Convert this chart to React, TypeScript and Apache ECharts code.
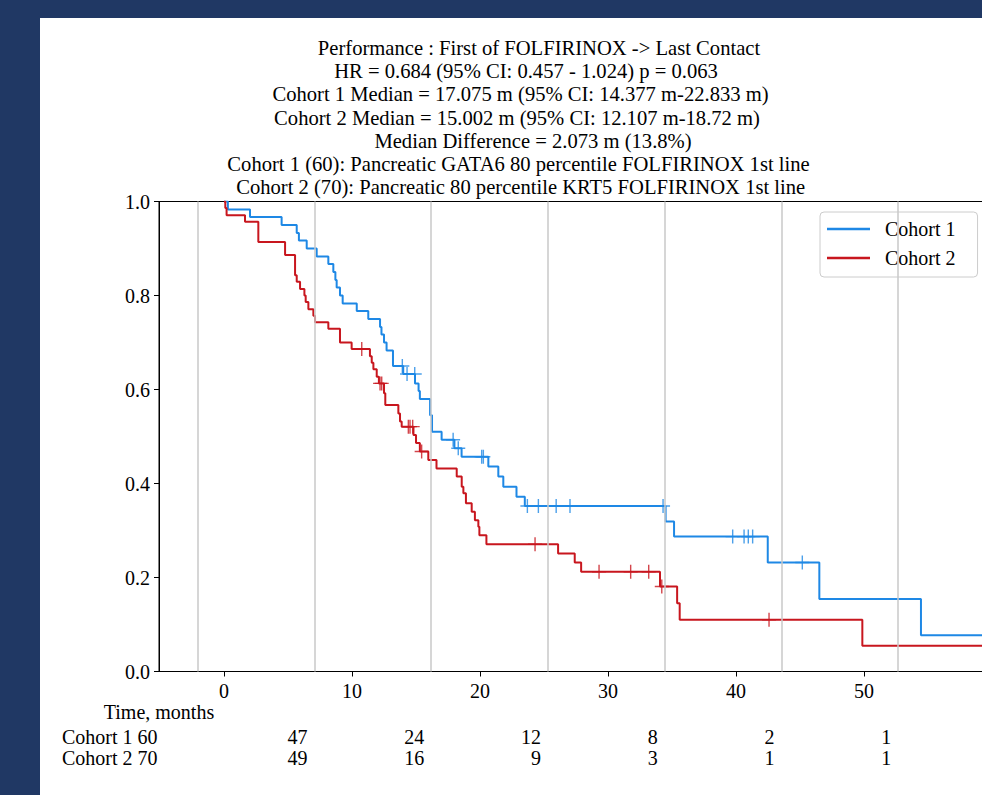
import React, { useEffect, useRef } from "react";
import * as echarts from "echarts";

const titleLines = [
  "Performance : First of FOLFIRINOX -> Last Contact",
  "HR = 0.684 (95% CI: 0.457 - 1.024) p = 0.063",
  "Cohort 1 Median = 17.075 m (95% CI: 14.377 m-22.833 m)",
  "Cohort 2 Median = 15.002 m (95% CI: 12.107 m-18.72 m)",
  "Median Difference = 2.073 m (13.8%)",
  "Cohort 1 (60): Pancreatic GATA6 80 percentile FOLFIRINOX 1st line",
  "Cohort 2 (70): Pancreatic 80 percentile KRT5 FOLFIRINOX 1st line",
];
const titleCenters = [539, 526, 520.5, 517, 533, 518.5, 520.7];

const seriesNames = ["Cohort 1", "Cohort 2"];

const cohort1Times = [0, 0.3, 2.03, 4.5, 5.68, 5.85, 6.46, 7.24, 8.15, 8.54, 8.7, 8.8, 9.06, 9.27, 10.37, 11.27, 12.19, 12.3, 12.5, 12.7, 13.2, 14.0, 14.92, 15.2, 15.3, 16.1, 16.25, 17.0, 18.0, 18.56, 20.65, 21.43, 21.82, 22.85, 23.5, 34.5, 35.16, 42.48, 46.51, 54.45];
const cohort1Surv = [1, 0.983, 0.967, 0.95, 0.933, 0.917, 0.9, 0.883, 0.867, 0.85, 0.833, 0.817, 0.8, 0.783, 0.767, 0.75, 0.733, 0.717, 0.7, 0.683, 0.65, 0.633, 0.613, 0.597, 0.58, 0.545, 0.51, 0.493, 0.475, 0.457, 0.436, 0.415, 0.393, 0.372, 0.352, 0.319, 0.287, 0.232, 0.154, 0.077];
const cohort1Censor = [13.93, 14.3, 14.9, 17.9, 18.3, 20.13, 20.26, 23.7, 24.56, 25.95, 27.03, 34.3, 39.74, 40.63, 40.96, 41.3, 45.18];
const cohort1FollowUpEnd = 70;

const cohort2Times = [0, 0.1, 0.2, 1.64, 2.68, 4.77, 5.55, 5.68, 5.94, 6.28, 6.38, 6.59, 6.98, 7.11, 8.15, 9.06, 9.97, 11.4, 11.54, 11.67, 11.93, 12.1, 12.5, 12.6, 13.62, 13.75, 13.88, 14.8, 15.0, 15.3, 15.96, 16.6, 18.18, 18.57, 18.7, 18.9, 19.35, 19.6, 19.87, 19.95, 20.5, 26.1, 27.4, 27.9, 34.06, 35.4, 35.6, 49.87];
const cohort2Surv = [1, 0.986, 0.971, 0.957, 0.914, 0.886, 0.843, 0.829, 0.814, 0.8, 0.786, 0.771, 0.757, 0.743, 0.729, 0.7, 0.686, 0.671, 0.657, 0.643, 0.627, 0.613, 0.592, 0.567, 0.549, 0.532, 0.521, 0.503, 0.486, 0.468, 0.45, 0.432, 0.415, 0.393, 0.379, 0.358, 0.34, 0.322, 0.308, 0.29, 0.271, 0.251, 0.232, 0.212, 0.181, 0.145, 0.11, 0.055];
const cohort2Censor = [10.76, 12.19, 12.32, 14.4, 14.53, 14.74, 15.44, 24.3, 29.3, 31.77, 33.18, 34.2, 42.58];
const cohort2FollowUpEnd = 70;

const xTickValues = [0, 10, 20, 30, 40, 50];
const riskGridMonths = [-2.05, 7.07, 16.19, 25.31, 34.43, 43.55, 52.67];
const riskRowLabels = ["Cohort 1 60", "Cohort 2 70"];
const atRisk1 = [47, 24, 12, 8, 2, 1];
const atRisk2 = [49, 16, 9, 3, 1, 1];
const xLabelText = "Time, months";

const FONT = '"Liberation Serif", "Times New Roman", serif';
const BLUE = "#1e88e5";
const RED = "#c8161e";
const PLUS = "path://M6.3,0h1.4v14h-1.4z M0,6.3h14v1.4h-14z";

function survAt(times: number[], surv: number[], t: number) {
  let s = surv[0];
  for (let i = 0; i < times.length; i++) {
    if (times[i] <= t) s = surv[i];
  }
  return s;
}

function textEl(text: string, x: number, y: number, align: string, size = 20) {
  return {
    type: "text",
    x,
    y,
    silent: true,
    style: {
      text,
      font: `${size}px ${FONT}`,
      fill: "#000",
      textAlign: align,
      align,
      textVerticalAlign: "middle",
      verticalAlign: "middle",
    },
  };
}

export default function App() {
  const ref = useRef<HTMLDivElement>(null);

  useEffect(() => {
    const chart = echarts.init(ref.current!, null, { renderer: "svg" });
    const line1 = cohort1Times.map((t, i) => [t, cohort1Surv[i]]);
    line1.push([cohort1FollowUpEnd, cohort1Surv[cohort1Surv.length - 1]]);
    const line2 = cohort2Times.map((t, i) => [t, cohort2Surv[i]]);
    line2.push([cohort2FollowUpEnd, cohort2Surv[cohort2Surv.length - 1]]);
    const cens1 = cohort1Censor.map((t) => [t, survAt(cohort1Times, cohort1Surv, t)]);
    const cens2 = cohort2Censor.map((t) => [t, survAt(cohort2Times, cohort2Surv, t)]);

    const option: any = {
      animation: false,
      grid: {
        left: 159,
        top: 201.5,
        width: 909.8,
        height: 470,
        show: true,
        borderColor: "#000",
        borderWidth: 1,
        backgroundColor: "transparent",
      },
      xAxis: {
        type: "value",
        min: -5.08,
        max: 66,
        axisLine: { show: true, onZero: false, lineStyle: { color: "#000", width: 1 } },
        axisTick: { show: true, customValues: xTickValues, length: 5, lineStyle: { color: "#000" } },
        axisLabel: { customValues: xTickValues, fontFamily: FONT, fontSize: 20, color: "#000", margin: 9 },
        splitLine: { show: false },
      },
      yAxis: {
        type: "value",
        min: 0,
        max: 1,
        interval: 0.2,
        axisLine: { show: true, onZero: false, lineStyle: { color: "#000", width: 1 } },
        axisTick: { show: true, length: 5, lineStyle: { color: "#000" } },
        axisLabel: {
          fontFamily: FONT,
          fontSize: 20,
          color: "#000",
          margin: 9,
          formatter: (v: number) => v.toFixed(1),
        },
        splitLine: { show: false },
      },
      legend: {
        data: seriesNames.map((n) => ({ name: n, icon: "rect" })),
        orient: "vertical",
        left: 820,
        top: 212,
        itemWidth: 43,
        itemHeight: 2.5,
        itemGap: 9,
        padding: [7, 22, 9, 7],
        borderColor: "#cccccc",
        borderWidth: 1,
        borderRadius: 4,
        textStyle: { fontFamily: FONT, fontSize: 20, color: "#000", lineHeight: 20, padding: [0, 0, 0, 10] },
      },
      series: [
        {
          type: "line",
          name: "grid",
          data: [],
          silent: true,
          z: 1,
          markLine: {
            silent: true,
            symbol: "none",
            label: { show: false },
            lineStyle: { color: "#c8c8c8", width: 1.5, type: "solid" },
            data: riskGridMonths.map((m) => ({ xAxis: m })),
          },
        },
        {
          type: "line",
          name: seriesNames[0],
          data: line1,
          step: "end",
          showSymbol: false,
          clip: true,
          color: BLUE,
          lineStyle: { color: BLUE, width: 2 },
          z: 3,
        },
        {
          type: "line",
          name: seriesNames[1],
          data: line2,
          step: "end",
          showSymbol: false,
          clip: true,
          color: RED,
          lineStyle: { color: RED, width: 2 },
          z: 3,
        },
        {
          type: "scatter",
          name: "c1cens",
          data: cens1,
          symbol: PLUS,
          symbolSize: 14,
          itemStyle: { color: BLUE },
          z: 4,
        },
        {
          type: "scatter",
          name: "c2cens",
          data: cens2,
          symbol: PLUS,
          symbolSize: 14,
          itemStyle: { color: RED },
          z: 4,
        },
      ],
    };
    chart.setOption(option);

    const graphics: any[] = [];
    titleLines.forEach((t, i) => graphics.push(textEl(t, titleCenters[i], 48 + 23.2 * i, "center", 20.6)));
    graphics.push(textEl(xLabelText, 159, 712, "center"));
    riskRowLabels.forEach((t, i) => graphics.push(textEl(t, 62, 737 + 21 * i, "left")));
    [atRisk1, atRisk2].forEach((row, r) => {
      row.forEach((v, k) => {
        const px = chart.convertToPixel({ xAxisIndex: 0 }, riskGridMonths[k + 1]) as number;
        graphics.push(textEl(String(v), px - 7, 737 + 21 * r, "right"));
      });
    });
    chart.setOption({ graphic: graphics });

    return () => chart.dispose();
  }, []);

  return (
    <div
      style={{
        position: "fixed",
        left: 0,
        top: 0,
        width: 982,
        height: 795,
        background: "#203864",
        overflow: "hidden",
      }}
    >
      <div style={{ position: "absolute", left: 40, top: 18, right: 0, bottom: 0, background: "#fff" }} />
      <div ref={ref} style={{ position: "absolute", left: 0, top: 0, width: 1100, height: 795 }} />
    </div>
  );
}
